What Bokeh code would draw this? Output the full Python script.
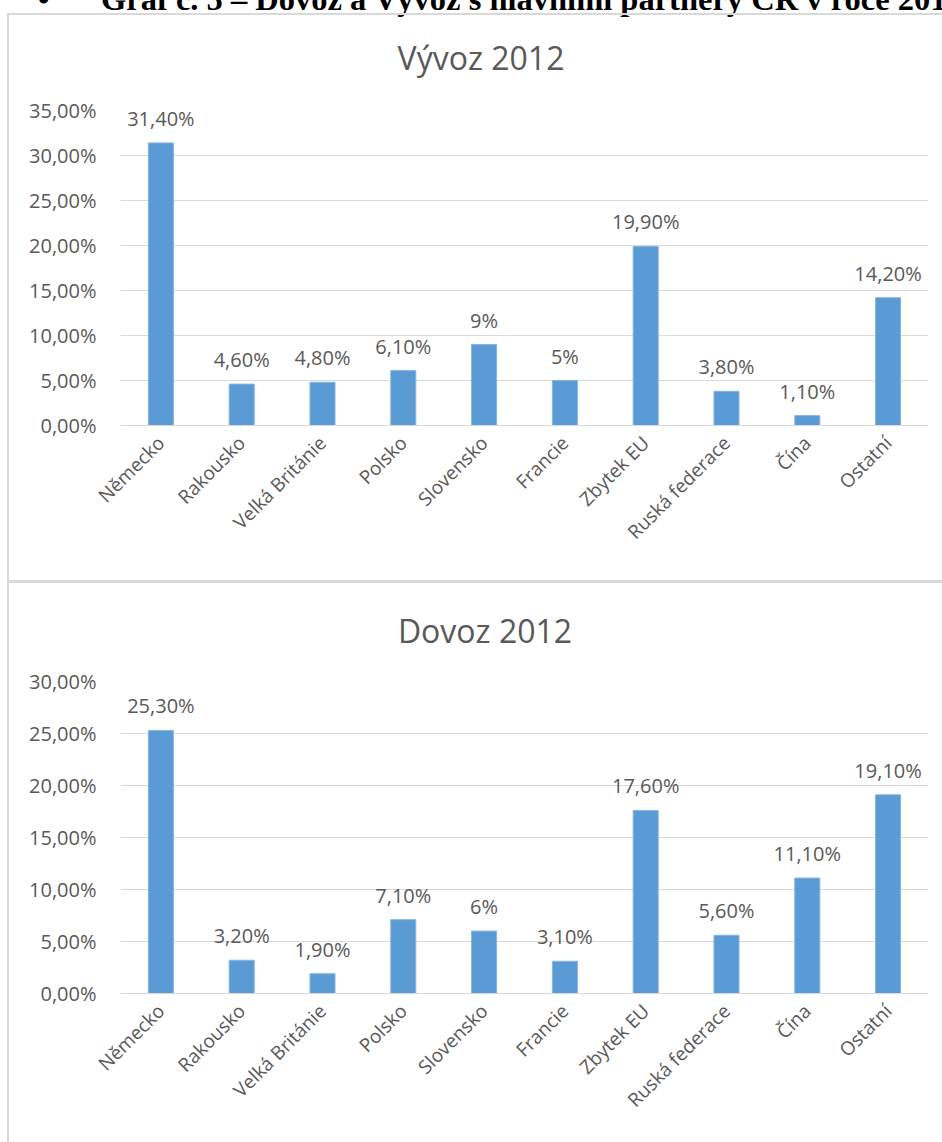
import math
from bokeh.plotting import figure
from bokeh.models import ColumnDataSource, LabelSet, Range1d, CustomJSTickFormatter, FixedTicker, Div
from bokeh.layouts import column, row
from bokeh.embed import file_html
from bokeh.resources import INLINE
from bokeh.core.properties import value

header_text = "Graf č. 5 – Dovoz a Vývoz s hlavními partnery ČR v roce 2012"
categories = ["Německo", "Rakousko", "Velká Británie", "Polsko", "Slovensko",
              "Francie", "Zbytek EU", "Ruská federace", "Čína", "Ostatní"]
export_2012 = [31.4, 4.6, 4.8, 6.1, 9.0, 5.0, 19.9, 3.8, 1.1, 14.2]
import_2012 = [25.3, 3.2, 1.9, 7.1, 6.0, 3.1, 17.6, 5.6, 11.1, 19.1]
export_ticks = [0, 5, 10, 15, 20, 25, 30, 35]
import_ticks = [0, 5, 10, 15, 20, 25, 30]

FONT = "Open Sans"
GRAY = "#595959"
GRID = "#D9D9D9"
BAR = "#5B9BD5"
PAGE_W = 942
LEFT_PAD = 7
BORDER = 2
CW = PAGE_W - LEFT_PAD - BORDER   # chart canvas width


def fmt(v):
    if abs(v - round(v)) < 1e-9:
        return f"{int(round(v))}%"
    return f"{v:.2f}".replace(".", ",") + "%"


def block(w, h, color=None):
    styles = {"background-color": color} if color else {}
    return Div(text="", width=w, height=h, margin=0, styles=styles)


def title_div(text, height, top, center_x):
    html = ("<div style=\"position:relative;\">"
            f"<span style=\"position:absolute;top:{top}px;left:{center_x}px;"
            "transform:translateX(-50%);white-space:nowrap;"
            f"font-family:'{FONT}';font-size:32px;line-height:32px;"
            f"color:{GRAY};\">{text}</span></div>")
    return Div(text=html, width=CW, height=height, margin=0,
               styles={"overflow": "visible"})


def make_chart(values, ticks, height, frame_top, frame_h):
    p = figure(x_range=categories, y_range=Range1d(0, ticks[-1]),
               width=CW, height=height, output_backend="svg",
               toolbar_location=None,
               min_border_left=111, min_border_right=CW - 111 - 808,
               min_border_top=frame_top,
               min_border_bottom=height - frame_top - frame_h)
    p.outline_line_color = None
    src = ColumnDataSource(dict(cat=categories, val=values,
                                lab=[fmt(v) for v in values]))
    p.vbar(x="cat", top="val", width=0.31, source=src,
           fill_color=BAR, line_color="#86B4E0", line_width=1)
    labels = LabelSet(x="cat", y="val", text="lab", source=src,
                      y_offset=17, text_align="center",
                      text_baseline="alphabetic",
                      text_font=value(FONT), text_font_size="20px",
                      text_color=GRAY)
    p.add_layout(labels)

    p.yaxis.ticker = FixedTicker(ticks=ticks)
    p.ygrid.ticker = FixedTicker(ticks=ticks)
    p.yaxis.formatter = CustomJSTickFormatter(
        code="return tick.toFixed(2).replace('.', ',') + '%';")
    p.yaxis.axis_line_color = None
    p.yaxis.major_tick_line_color = None
    p.yaxis.minor_tick_line_color = None
    p.yaxis.major_label_standoff = 18
    p.yaxis.major_label_text_font = FONT
    p.yaxis.major_label_text_font_size = "20px"
    p.yaxis.major_label_text_color = GRAY
    p.ygrid.grid_line_color = GRID
    p.xgrid.grid_line_color = None

    p.xaxis.axis_line_color = GRID
    p.xaxis.major_tick_line_color = None
    p.xaxis.minor_tick_line_color = None
    p.xaxis.major_label_orientation = math.pi / 4
    p.xaxis.major_label_standoff = 8
    p.xaxis.major_label_text_font = FONT
    p.xaxis.major_label_text_font_size = "19px"
    p.xaxis.major_label_text_color = GRAY
    return p


span_style = ("position:absolute;top:-25px;white-space:nowrap;"
              "font-family:'Liberation Serif';font-weight:bold;font-size:32.5px;"
              "line-height:33px;color:#000;")
header = Div(
    text=(f"<div style=\"position:relative;width:{PAGE_W}px;height:4px;"
          "overflow-x:clip;overflow-y:visible;\">"
          f"<span style=\"{span_style}left:38px;\">•</span>"
          f"<span style=\"{span_style}left:101px;\">{header_text}</span></div>"),
    width=PAGE_W, height=13, margin=0, styles={"overflow": "visible"})

TITLE_H = 70
H1, H2 = 565, 559
p1 = make_chart(export_2012, export_ticks, H1 - TITLE_H, 25, 315)
p2 = make_chart(import_2012, import_ticks, H2 - TITLE_H, 28, 312)
t1 = title_div("Vývoz 2012", TITLE_H, 15, 481 - LEFT_PAD - BORDER)
t2 = title_div("Dovoz 2012", TITLE_H, 20, 485 - LEFT_PAD - BORDER)

layout = column(
    header,
    row(block(LEFT_PAD, 2), block(PAGE_W - LEFT_PAD, 2, GRID)),
    row(block(LEFT_PAD, H1), block(BORDER, H1, GRID), column(t1, p1)),
    row(block(LEFT_PAD, 3), block(PAGE_W - LEFT_PAD, 3, GRID)),
    row(block(LEFT_PAD, H2), block(BORDER, H2, GRID), column(t2, p2)),
)
open("out.html", "w").write(file_html(layout, INLINE))
